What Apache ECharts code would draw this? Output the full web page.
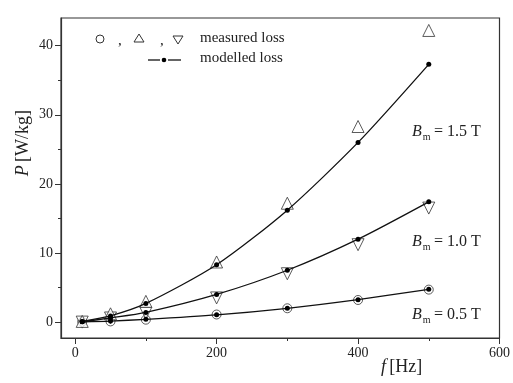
<!DOCTYPE html>
<html>
<head>
<meta charset="utf-8">
<script src="https://cdn.jsdelivr.net/npm/echarts@6/dist/echarts.min.js"></script>
<style>
  html, body { margin: 0; padding: 0; background: #fff; }
  #chart { width: 513px; height: 383px; }
</style>
</head>
<body>
<div id="chart"></div>
<script>
// frequency points [Hz]
const freq = [10, 50, 100, 200, 300, 400, 500];

// B_m = 0.5 T
const measured05 = [0.05, 0.1, 0.35, 1.1, 2.0, 3.2, 4.7];
const modelled05 = [0.05, 0.15, 0.4, 1.05, 2.0, 3.25, 4.75];
// B_m = 1.0 T
const measured10 = [0.0, 0.6, 1.3, 3.5, 7.0, 11.2, 16.5];
const modelled10 = [0.05, 0.6, 1.4, 4.0, 7.5, 12.0, 17.4];
// B_m = 1.5 T
const measured15 = [0.1, 1.2, 3.0, 8.7, 17.2, 28.3, 42.2];
const modelled15 = [0.1, 0.9, 2.7, 8.3, 16.2, 26.0, 37.3];

const xTicks = [0, 200, 400, 600];
const xMinorTicks = [100, 300, 500];
const yTicks = [0, 10, 20, 30, 40];
const yMinorTicks = [5, 15, 25, 35];

const font = 'Liberation Serif, Times New Roman, serif';
const ink = '#222';

const pairs = (ys) => freq.map((f, i) => [f, ys[i]]);

const chart = echarts.init(document.getElementById('chart'), null, { renderer: 'canvas' });

const xBase = { type: 'value', min: -20, max: 600, splitLine: { show: false } };
const yBase = { type: 'value', min: -2.3, max: 44, splitLine: { show: false } };

const measured = (data, symbol, size) => ({
  type: 'scatter',
  data: pairs(data),
  symbol: symbol,
  symbolSize: size,
  itemStyle: { color: '#fff', borderColor: '#333', borderWidth: 1 },
  z: 3
});

const modelled = (data) => ({
  type: 'line',
  data: pairs(data),
  smooth: 0.25,
  symbol: 'circle',
  symbolSize: 5,
  showAllSymbol: true,
  lineStyle: { color: '#111', width: 1.3 },
  itemStyle: { color: '#000' },
  z: 4
});

const option = {
  animation: false,
  backgroundColor: '#fff',
  grid: { left: 61, right: 11, top: 18, bottom: 45, show: true, borderColor: '#333', borderWidth: 1.2, containLabel: false },
  xAxis: [
    Object.assign({}, xBase, {
      axisLine: { show: true, onZero: false, lineStyle: { color: '#333', width: 1.2 } },
      axisTick: { show: true, inside: false, length: 6, customValues: xTicks, lineStyle: { color: '#333' } },
      axisLabel: { customValues: xTicks, color: ink, fontFamily: font, fontSize: 14, margin: 8 }
    }),
    Object.assign({}, xBase, {
      position: 'bottom',
      axisLine: { show: false, onZero: false },
      axisTick: { show: true, inside: false, length: 3, customValues: xMinorTicks, lineStyle: { color: '#333' } },
      axisLabel: { show: false }
    })
  ],
  yAxis: [
    Object.assign({}, yBase, {
      axisLine: { show: true, onZero: false, lineStyle: { color: '#333', width: 1.2 } },
      axisTick: { show: true, inside: false, length: 6, customValues: yTicks, lineStyle: { color: '#333' } },
      axisLabel: { customValues: yTicks, color: ink, fontFamily: font, fontSize: 14, margin: 8 }
    }),
    Object.assign({}, yBase, {
      position: 'left',
      axisLine: { show: false, onZero: false },
      axisTick: { show: true, inside: false, length: 3, customValues: yMinorTicks, lineStyle: { color: '#333' } },
      axisLabel: { show: false }
    })
  ],
  series: [
    measured(measured05, 'circle', 9),
    measured(measured10, 'triangle', 12),
    measured(measured15, 'triangle', 12),
    modelled(modelled05),
    modelled(modelled10),
    modelled(modelled15)
  ],
  graphic: []
};

// the down-pointing triangles
option.series[1].symbolRotate = 180;

const bm = (text, x, y) => ({
  type: 'text', left: x, top: y,
  style: {
    text: '{b|B}{s|m} {n|= ' + text + ' T}',
    rich: {
      b: { fontFamily: font, fontStyle: 'italic', fontSize: 16, fill: ink },
      s: { fontFamily: font, fontSize: 10, fill: ink, padding: [10, 0, 0, 1] },
      n: { fontFamily: font, fontSize: 16, fill: ink }
    }
  }
});

option.graphic = [
  // axis titles
  {
    type: 'text', left: 14, top: 110, rotation: Math.PI / 2,
    style: {
      text: '{i|P} {n|[W/kg]}',
      rich: {
        i: { fontFamily: font, fontStyle: 'italic', fontSize: 18, fill: ink },
        n: { fontFamily: font, fontSize: 18, fill: ink }
      }
    }
  },
  {
    type: 'text', left: 381, top: 358,
    style: {
      text: '{i|f} {n|[Hz]}',
      rich: {
        i: { fontFamily: font, fontStyle: 'italic', fontSize: 18, fill: ink },
        n: { fontFamily: font, fontSize: 18, fill: ink }
      }
    }
  },
  // legend
  { type: 'circle', shape: { cx: 100, cy: 39, r: 4 }, style: { fill: '#fff', stroke: '#333', lineWidth: 1 } },
  { type: 'text', left: 118, top: 34, style: { text: ',', fontFamily: font, fontSize: 15, fill: ink } },
  { type: 'polygon', shape: { points: [[139, 34], [134, 42], [144, 42]] }, style: { fill: '#fff', stroke: '#333', lineWidth: 1 } },
  { type: 'text', left: 160, top: 34, style: { text: ',', fontFamily: font, fontSize: 15, fill: ink } },
  { type: 'polygon', shape: { points: [[173, 36], [183, 36], [178, 44]] }, style: { fill: '#fff', stroke: '#333', lineWidth: 1 } },
  { type: 'text', left: 200, top: 31, style: { text: 'measured loss', fontFamily: font, fontSize: 15, fill: ink } },
  { type: 'line', shape: { x1: 148, y1: 60, x2: 160, y2: 60 }, style: { stroke: '#111', lineWidth: 1.3 } },
  { type: 'line', shape: { x1: 168, y1: 60, x2: 181, y2: 60 }, style: { stroke: '#111', lineWidth: 1.3 } },
  { type: 'circle', shape: { cx: 164, cy: 60, r: 2.3 }, style: { fill: '#000' } },
  { type: 'text', left: 200, top: 51, style: { text: 'modelled loss', fontFamily: font, fontSize: 15, fill: ink } },
  // B_m annotations
  bm('1.5', 412, 124),
  bm('1.0', 412, 234),
  bm('0.5', 412, 307)
];

chart.setOption(option);
</script>
</body>
</html>
